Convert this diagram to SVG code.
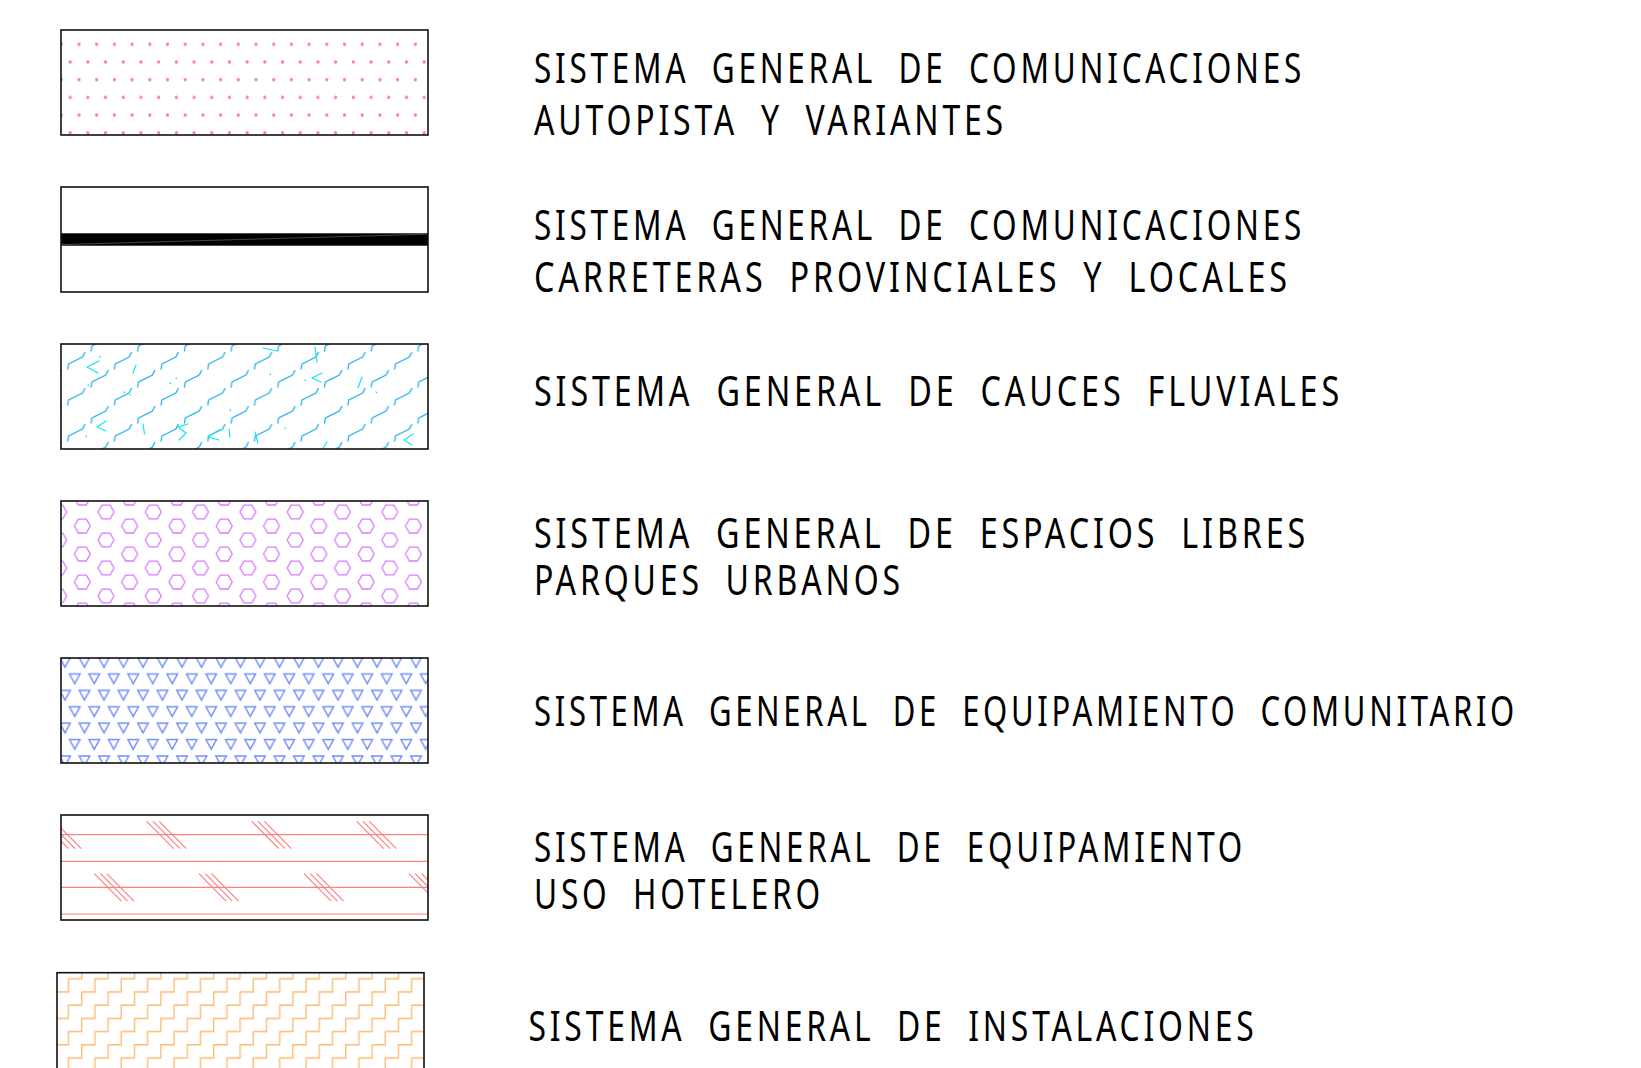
<svg xmlns="http://www.w3.org/2000/svg" xmlns:xlink="http://www.w3.org/1999/xlink" width="1641" height="1068" viewBox="0 0 1641 1068">
<style>
.frame{fill:none;stroke:#111;stroke-width:1.6}
.t{font-family:"Noto Sans","DejaVu Sans",sans-serif;font-size:42px;font-weight:400;font-stretch:condensed;letter-spacing:5px;word-spacing:14px;fill:#000}
.cy{fill:none;stroke:#1fb0ec;stroke-width:1.3;stroke-linecap:round;stroke-linejoin:round}
.cy2{fill:none;stroke:#10e6f0;stroke-width:1.2;stroke-linecap:round;stroke-linejoin:round}
.rd{stroke:#ff8080;stroke-width:1.2;fill:none}
</style>
<defs>
<pattern id="pDots" patternUnits="userSpaceOnUse" x="56.875" y="35.45" width="17.7" height="35.4">
<circle cx="4.425" cy="8.85" r="1.6" fill="#ff6ec4"/>
<circle cx="13.275" cy="26.55" r="1.6" fill="#ff6ec4"/>
</pattern>
<pattern id="pCy" patternUnits="userSpaceOnUse" x="63.7" y="343" width="46.7" height="36">
<path class="cy" d="M4,26 l0.8,-5 l14,-7 l2.3,-4.5"/>
<path class="cy" d="M27.35,8 l0.8,-5 l14,-7 l2.3,-4.5"/>
<path class="cy" d="M27.35,44 l0.8,-5 l14,-7 l2.3,-4.5"/>
</pattern>
<pattern id="pHex" patternUnits="userSpaceOnUse" x="94" y="505" width="47.3" height="28">
<g fill="none" stroke="#d77cff" stroke-width="1.3">
<path d="M4,7 L8,0.07 L16,0.07 L20,7 L16,13.93 L8,13.93 Z"/>
<path d="M4,35 L8,28.07 L16,28.07 L20,35 L16,41.93 L8,41.93 Z"/>
<path d="M27.65,21 L31.65,14.07 L39.65,14.07 L43.65,21 L39.65,27.93 L31.65,27.93 Z"/>
<path d="M27.65,-7 L31.65,-13.93 L39.65,-13.93 L43.65,-7 L39.65,0.07 L31.65,0.07 Z"/>
</g>
</pattern>
<pattern id="pTri" patternUnits="userSpaceOnUse" x="57" y="654.6" width="19.5" height="32.8">
<g fill="none" stroke="#6f8cff" stroke-width="1.4" stroke-linejoin="miter">
<path d="M2.7,3 L13.3,3 L8,12.6 Z"/>
<path d="M12.45,19.4 L23.05,19.4 L17.75,29 Z"/>
<path d="M-7.05,19.4 L3.55,19.4 L-1.75,29 Z"/>
</g>
</pattern>
<pattern id="pStair" patternUnits="userSpaceOnUse" x="48.7" y="985.4" width="26.4" height="26.4">
<g fill="none" stroke="#ffb86c" stroke-width="1.3">
<path d="M-6.6,46.2 H6.6 V33 H19.8 V19.8 H33 V6.6 H46.2 V-6.6"/>
<path d="M-33,46.2 H-19.8 V33 H-6.6 V19.8 H6.6 V6.6 H19.8 V-6.6 H33 V-19.8"/>
</g>
</pattern>
<g id="rg" class="rd">
<line x1="0" y1="0" x2="27" y2="27.4"/>
<line x1="6.3" y1="0" x2="33.3" y2="27.4"/>
<line x1="12.6" y1="0" x2="39.6" y2="27.4"/>
</g>
<clipPath id="c3"><rect x="61" y="344" width="367" height="105"/></clipPath>
<clipPath id="c6"><rect x="61" y="815" width="367" height="105"/></clipPath>
</defs>
<rect width="1641" height="1068" fill="#fff"/>

<g id="legend-1">
<rect x="61" y="30" width="367" height="105" fill="url(#pDots)"/>
<rect class="frame" x="61" y="30" width="367" height="105"/>
<text class="t" x="534" y="82.7" textLength="771" lengthAdjust="spacingAndGlyphs">SISTEMA GENERAL DE COMUNICACIONES</text>
<text class="t" x="534" y="135.3" textLength="473" lengthAdjust="spacingAndGlyphs">AUTOPISTA Y VARIANTES</text>
</g>

<g id="legend-2">
<rect x="61" y="233.3" width="367" height="12.4" fill="#000"/>
<line x1="62" y1="244.6" x2="427" y2="234.2" stroke="#666" stroke-width="0.7"/>
<rect class="frame" x="61" y="187" width="367" height="105"/>
<text class="t" x="534" y="239.6" textLength="771" lengthAdjust="spacingAndGlyphs">SISTEMA GENERAL DE COMUNICACIONES</text>
<text class="t" x="534" y="292" textLength="757" lengthAdjust="spacingAndGlyphs">CARRETERAS PROVINCIALES Y LOCALES</text>
</g>

<g id="legend-3">
<rect x="61" y="344" width="367" height="105" fill="url(#pCy)"/>
<g clip-path="url(#c3)">
<path class="cy2" d="M99,361 L87,367 L98,373"/>
<path class="cy2" d="M100,356.5 l0.5,0.5"/>
<path class="cy2" d="M136,365 L133,373"/>
<path class="cy2" d="M88,385 l0.5,0.5 M124,392 l0.5,0.5 M170,383 l0.5,0.5 M176,378 l0.5,0.5 M130,395 l0.5,0.5 M270,374 l0.5,0.5 M305,380 l0.5,0.5 M376,392 l0.5,0.5 M230,410 l0.5,0.5 M285,428 l0.5,0.5 M86,436 l0.5,0.5"/>
<path class="cy2" d="M263,348 L277,351"/>
<path class="cy2" d="M315,347 L317,362"/>
<path class="cy2" d="M322,373 L312,378 L321,382"/>
<path class="cy2" d="M362,377 L358,388"/>
<path class="cy2" d="M106,421 L97,427 L106,431"/>
<path class="cy2" d="M143,424 L144.5,434"/>
<path class="cy2" d="M188,424 L178,427 L186,433 L179,440"/>
<path class="cy2" d="M219,430 L208,437 L219,440"/>
<path class="cy2" d="M229,429 L230,437"/>
<path class="cy2" d="M255,432 L258,443"/>
<path class="cy2" d="M413,434 L404,440 L412,445"/>
<path class="cy2" d="M327,442 L323,448"/>
</g>
<rect class="frame" x="61" y="344" width="367" height="105"/>
<text class="t" x="534" y="406" textLength="809" lengthAdjust="spacingAndGlyphs">SISTEMA GENERAL DE CAUCES FLUVIALES</text>
</g>

<g id="legend-4">
<rect x="61" y="501" width="367" height="105" fill="url(#pHex)"/>
<rect class="frame" x="61" y="501" width="367" height="105"/>
<text class="t" x="534" y="547.5" textLength="775" lengthAdjust="spacingAndGlyphs">SISTEMA GENERAL DE ESPACIOS LIBRES</text>
<text class="t" x="534" y="594.6" textLength="370" lengthAdjust="spacingAndGlyphs">PARQUES URBANOS</text>
</g>

<g id="legend-5">
<rect x="61" y="658" width="367" height="105" fill="url(#pTri)"/>
<rect class="frame" x="61" y="658" width="367" height="105"/>
<text class="t" x="534" y="726" textLength="984" lengthAdjust="spacingAndGlyphs">SISTEMA GENERAL DE EQUIPAMIENTO COMUNITARIO</text>
</g>

<g id="legend-6">
<g clip-path="url(#c6)">
<g class="rd">
<line x1="61" y1="834.7" x2="428" y2="834.7"/>
<line x1="61" y1="861.3" x2="428" y2="861.3"/>
<line x1="61" y1="887.3" x2="428" y2="887.3"/>
<line x1="61" y1="914" x2="428" y2="914"/>
</g>
<use xlink:href="#rg" transform="translate(41.7,821.3)"/>
<use xlink:href="#rg" transform="translate(146.7,821.3)"/>
<use xlink:href="#rg" transform="translate(251.7,821.3)"/>
<use xlink:href="#rg" transform="translate(356.7,821.3)"/>
<use xlink:href="#rg" transform="translate(94.3,873.7)"/>
<use xlink:href="#rg" transform="translate(199,873.7)"/>
<use xlink:href="#rg" transform="translate(304,873.7)"/>
<use xlink:href="#rg" transform="translate(409,873.7)"/>
</g>
<rect class="frame" x="61" y="815" width="367" height="105"/>
<text class="t" x="534" y="861.5" textLength="712" lengthAdjust="spacingAndGlyphs">SISTEMA GENERAL DE EQUIPAMIENTO</text>
<text class="t" x="534" y="908.6" textLength="290" lengthAdjust="spacingAndGlyphs">USO HOTELERO</text>
</g>

<g id="legend-7">
<rect x="57" y="972.7" width="367" height="100" fill="url(#pStair)"/>
<rect class="frame" x="57" y="972.7" width="367" height="100"/>
<text class="t" x="528.5" y="1040.5" textLength="729" lengthAdjust="spacingAndGlyphs">SISTEMA GENERAL DE INSTALACIONES</text>
</g>

<g id="connectors"></g>
</svg>
